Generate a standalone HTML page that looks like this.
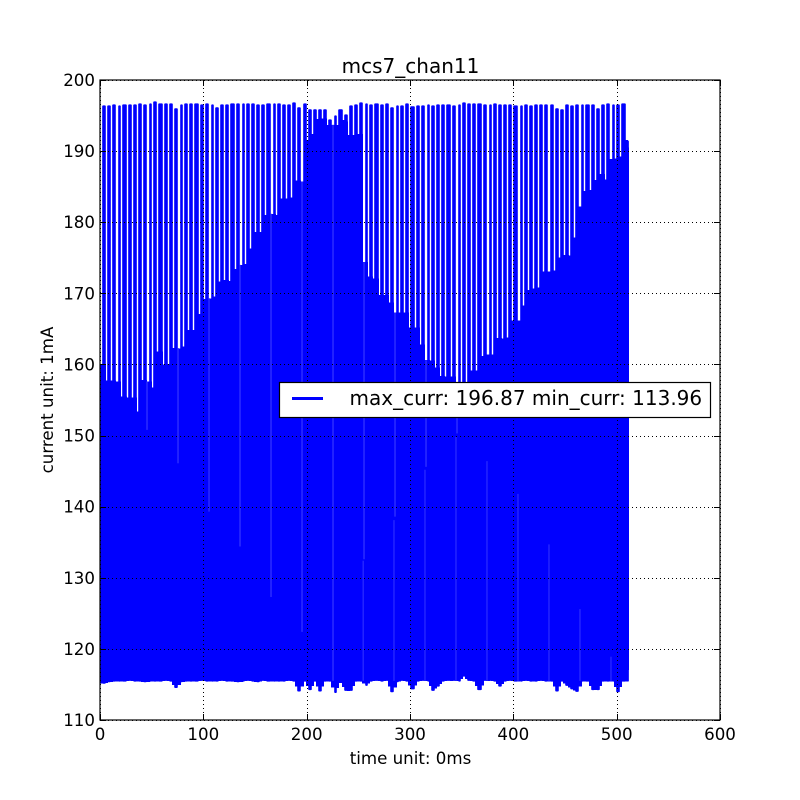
<!DOCTYPE html>
<html>
<head>
<meta charset="utf-8">
<title>mcs7_chan11</title>
<style>
html,body{margin:0;padding:0;background:#fff;width:800px;height:800px;overflow:hidden}
svg{display:block}
text{font-family:"DejaVu Sans","Liberation Sans",sans-serif;fill:#000}
</style>
</head>
<body>
<svg id="chart" xmlns="http://www.w3.org/2000/svg" width="800" height="800" viewBox="0 0 800 800">
  <rect x="0" y="0" width="800" height="800" fill="#fff"/>
  <rect x="100" y="80" width="620" height="640" fill="#fff"/>
  <defs><clipPath id="plot-clip"><rect x="100" y="80" width="620" height="640"/></clipPath></defs>
  <g id="series" clip-path="url(#plot-clip)" shape-rendering="crispEdges"></g>
  <g id="stripes" clip-path="url(#plot-clip)"></g>
  <g id="grid"></g>
  <g id="ticks"></g>
  <rect x="100" y="80" width="620" height="640" fill="none" stroke="#000" stroke-width="1.2"/>
  <text x="410.5" y="73" font-size="20" text-anchor="middle">mcs7_chan11</text>
  <text x="410.5" y="764" font-size="16.67" text-anchor="middle">time unit: 0ms</text>
  <text transform="translate(53,400) rotate(-90)" font-size="16.67" text-anchor="middle">current unit: 1mA</text>
  <g>
    <rect x="279.5" y="382.5" width="431" height="35" fill="#fff" stroke="#000" stroke-width="1.2"/>
    <line x1="292" y1="398.5" x2="323" y2="398.5" stroke="#0000ff" stroke-width="3"/>
    <text x="349.5" y="405" font-size="20">max_curr: 196.87 min_curr: 113.96</text>
  </g>
</svg>
<script>
// Axis domains
const xDomain = [0, 600];
const yDomain = [110, 200];
const xTickValues = [0, 100, 200, 300, 400, 500, 600];
const yTickValues = [110, 120, 130, 140, 150, 160, 170, 180, 190, 200];

// Time of the first dropout and the spacing between dropouts (time units)
const firstDropTime = 1.31;
const dropPeriod = 4.978;
const seriesEndTime = 512;

// Highest current reached in each burst
const burstPeaks = [
196.44,196.44,196.58,196.44,196.58,196.58,196.58,196.72,196.58,196.72,
197.0,196.72,196.72,196.72,196.02,196.58,196.72,196.72,196.72,196.58,
196.72,196.58,196.16,196.58,196.58,196.72,196.72,196.72,196.72,196.72,
196.58,196.58,196.72,196.72,196.72,196.58,196.58,196.86,196.16,196.72,
195.88,195.88,195.88,195.88,194.47,195.03,195.88,195.17,196.44,196.58,
196.86,196.72,196.58,196.72,196.58,196.72,196.16,196.44,196.44,196.72,
196.3,196.44,196.44,196.58,196.44,196.58,196.58,196.58,196.44,196.58,
196.86,196.72,196.72,196.72,196.58,196.58,196.72,196.58,196.58,196.58,
196.44,196.44,196.58,196.44,196.58,196.58,196.58,196.58,196.02,195.88,
196.58,196.44,196.58,196.58,196.58,196.58,196.02,196.58,196.72,196.58,
196.58,196.72,191.5];

// Lowest current reached in each burst
const burstLows = [
115.1,115.3,115.4,115.4,115.4,115.5,115.4,115.4,115.3,115.4,
115.4,115.4,115.5,115.4,114.5,115.3,115.4,115.4,115.4,115.5,
115.4,115.4,115.4,115.5,115.4,115.4,115.3,115.4,115.5,115.4,
115.3,115.5,115.4,115.4,115.4,115.4,115.5,115.4,114.0,115.4,
114.2,115.4,114.0,115.4,115.4,113.8,115.2,114.1,114.1,115.4,
115.4,114.8,115.4,115.5,115.4,115.5,113.9,115.3,115.5,115.4,
114.3,115.4,115.5,115.4,114.1,114.7,115.4,115.5,115.5,115.4,
116.1,115.5,115.4,114.2,115.5,115.5,115.4,114.7,115.4,115.5,
115.4,115.4,115.5,115.4,115.4,115.5,115.4,115.4,114.0,115.4,
114.8,114.3,113.96,115.4,115.4,114.2,114.2,115.4,115.4,115.4,
113.9,115.4,115.4];

// Current the dropout before each burst falls back to
const dropFloors = [
160.06,157.72,157.72,157.58,155.47,155.33,155.33,153.35,157.81,157.58,
156.73,161.8,159.97,160.06,162.31,162.27,162.5,164.84,164.84,167.09,
169.2,169.3,169.53,171.64,171.88,171.73,173.42,173.98,174.12,176.33,
178.63,178.63,181.02,181.16,181.02,183.36,183.36,183.5,185.84,185.7,
191.56,192.41,194.52,194.61,193.67,193.67,193.67,194.38,192.27,192.27,
192.41,174.41,172.34,172.11,169.77,169.77,168.69,167.28,167.28,167.28,
165.17,165.17,162.78,160.63,160.53,159.59,158.38,158.28,158.28,157.4,
157.4,157.4,159.13,159.13,161.19,161.37,161.37,163.72,163.63,163.77,
166.16,166.16,168.27,170.47,170.66,170.8,173.05,173.05,173.19,175.02,
175.39,175.3,177.83,182.18,184.39,184.53,185.94,186.78,186.04,188.89,
188.99,189.21,191.56];

// Faint stripes inside the filled region
const upperStripeTimes = [45.5,75.5,105.5,135.5,165.5,195.5,225.5,255.5,285.5,315.5,345.5];
const upperStripeTops = [157.6,162.3,169.3,174,181.2,185.7,193.7,174.4,167.3,160.6,157.4];
const upperStripeBottoms = [150.8,146.1,139.3,134.4,127.3,122.4,115.5,132.6,138.6,145.6,150.3];
const lowerStripeTimes = [254.7,284.5,314.5,344.5,374.5,404.5,434.5,464.5,494.5];
const lowerStripeTops = [132.4,138.1,145.2,149.8,146.4,141.8,134.7,125.6,118.9];
const lowerStripeBottom = 115.5;

const SVG_NS = 'http://www.w3.org/2000/svg';
const xScale = function (t) { return 100 + (t - xDomain[0]) / (xDomain[1] - xDomain[0]) * 620; };
const yScale = function (v) { return 720 - (v - yDomain[0]) / (yDomain[1] - yDomain[0]) * 640; };
const make = function (tag, parent, attrs) {
  const el = document.createElementNS(SVG_NS, tag);
  Object.keys(attrs).forEach(function (k) { el.setAttribute(k, attrs[k]); });
  parent.appendChild(el);
  return el;
};

const seriesGroup = document.getElementById('series');
const stripeGroup = document.getElementById('stripes');
const gridGroup = document.getElementById('grid');
const tickGroup = document.getElementById('ticks');

const dropLeft = function (k) { return Math.round(xScale(firstDropTime + k * dropPeriod) - 0.5); };
const dropWidth = function (k) { return k % 6 === 3 ? 2 : 1; };

// Bursts
burstPeaks.forEach(function (peak, i) {
  const k = i + 1;
  const left = dropLeft(i) + dropWidth(i) + 0.2;
  const right = (k < dropFloors.length ? dropLeft(k) : xScale(seriesEndTime)) - 0.2;
  const top = yScale(peak);
  const bottom = yScale(burstLows[i]);
  const bar = make('rect', seriesGroup, { x: left, y: top, width: right - left, height: bottom - top, rx: 1, ry: 1, fill: '#0000ff' });
  bar.setAttribute('shape-rendering', 'auto');
  
  
});

// Dropout floors: solid fill underneath each white gap
dropFloors.forEach(function (floor, k) {
  const prevLow = k > 0 ? burstLows[k - 1] : burstLows[k];
  const low = (prevLow + burstLows[k]) / 2;
  const left = dropLeft(k);
  const top = yScale(floor);
  const gapFill = make('rect', seriesGroup, { x: k === 0 ? 100 : left - 1, y: top, width: dropWidth(k) + 2, height: yScale(low) - top, fill: '#0000ff' });
  
  
});

// Solid core between floors and lows, so the rounded corners leave no seams
const coreTopValue = 117;
burstPeaks.forEach(function (peak, i) {
  const left = dropLeft(i);
  const next = i + 1 < dropFloors.length ? dropLeft(i + 1) : xScale(seriesEndTime);
  const top = yScale(Math.min(dropFloors[i], peak - 1));
  const core = make('rect', seriesGroup, { x: left + dropWidth(i), y: top, width: next - left - dropWidth(i), height: yScale(coreTopValue) - top, fill: '#0000ff' });
  
  
});

// Faint stripes
upperStripeTimes.forEach(function (t, i) {
  const s = make('line', stripeGroup, { x1: xScale(t), x2: xScale(t), y1: yScale(upperStripeTops[i]), y2: yScale(upperStripeBottoms[i]), stroke: '#2a2aff', 'stroke-width': 1.6 });
  
  
});
lowerStripeTimes.forEach(function (t, i) {
  const s = make('line', stripeGroup, { x1: xScale(t), x2: xScale(t), y1: yScale(lowerStripeTops[i]), y2: yScale(lowerStripeBottom), stroke: '#2a2aff', 'stroke-width': 1.3 });
  
  
});

// Grid, ticks and tick labels
xTickValues.forEach(function (t) {
  const x = Math.round(xScale(t)) + 0.5;
  const g = make('line', gridGroup, { x1: x, x2: x, y1: 80, y2: 720, stroke: '#000', 'stroke-width': 1, 'stroke-dasharray': '1 3' });
  
  
  const a = make('line', tickGroup, { x1: x, x2: x, y1: 720, y2: 714, stroke: '#000', 'stroke-width': 1 });
  
  
  const b = make('line', tickGroup, { x1: x, x2: x, y1: 80, y2: 86, stroke: '#000', 'stroke-width': 1 });
  
  
  const label = make('text', tickGroup, { x: xScale(t), y: 740, 'font-size': 16.67, 'text-anchor': 'middle' });
  label.textContent = String(t);
  
  
});
yTickValues.forEach(function (v) {
  const y = Math.round(yScale(v)) + 0.5;
  const g = make('line', gridGroup, { x1: 100, x2: 720, y1: y, y2: y, stroke: '#000', 'stroke-width': 1, 'stroke-dasharray': '1 3' });
  
  
  const a = make('line', tickGroup, { x1: 100, x2: 106, y1: y, y2: y, stroke: '#000', 'stroke-width': 1 });
  
  
  const b = make('line', tickGroup, { x1: 714, x2: 720, y1: y, y2: y, stroke: '#000', 'stroke-width': 1 });
  
  
  const label = make('text', tickGroup, { x: 95, y: yScale(v) + 6, 'font-size': 16.67, 'text-anchor': 'end' });
  label.textContent = String(v);
  
  
});
</script>
</body>
</html>
